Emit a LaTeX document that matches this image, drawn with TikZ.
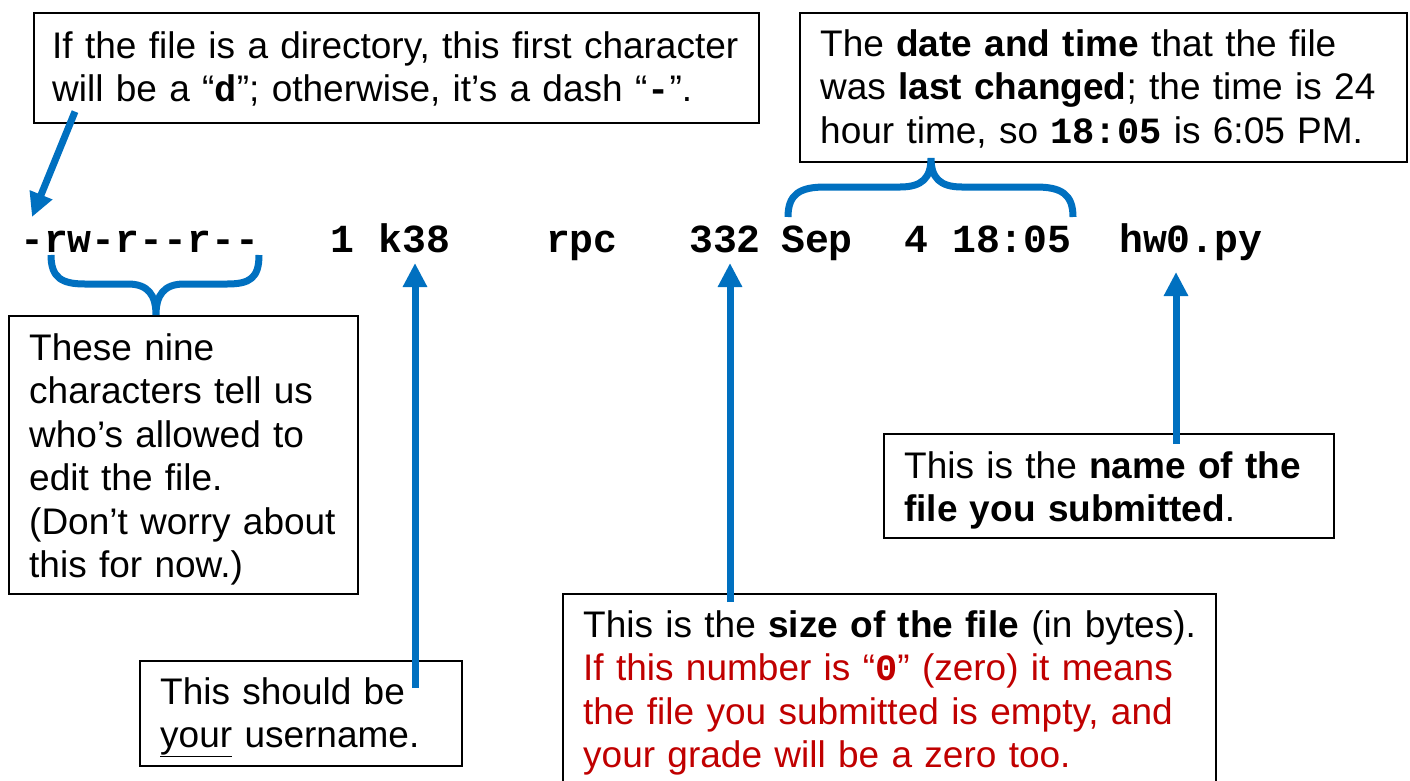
\documentclass[tikz,border=0pt]{standalone}
\usepackage{fontspec}
\setmainfont{Liberation Sans}
\setmonofont{Liberation Mono}
\usetikzlibrary{arrows.meta}
\definecolor{lblue}{RGB}{0,112,192}
\definecolor{dred}{RGB}{192,0,0}
\newcommand{\ttb}[1]{{\ttfamily\bfseries #1}}
\tikzset{
  box/.style={draw, line width=1.6pt, anchor=north west, inner sep=0pt},
  txt/.style={anchor=base west, inner sep=0pt, align=left, text width=700pt,
    font=\fontsize{37}{43.5}\selectfont},
  ls/.style={anchor=base west, inner sep=0pt, font=\fontsize{39.8}{44}\selectfont\ttfamily\bfseries},
  arr/.style={draw=lblue, line width=7pt, -{Triangle[length=24pt,width=23pt]}},
  brc/.style={draw=lblue, line width=7pt}
}
\begin{document}
\begin{tikzpicture}[x=1pt, y=-1pt]
  \path[use as bounding box] (0,0) rectangle (1410,780);
  \clip (0,0) rectangle (1410,780);
  % the listing line
  \node[ls] (perm) at (20,252) {-rw-r--r--};
  \node[ls] (links) at (330.7,252) {1};
  \node[ls] (k38) at (378.5,252) {k38};
  \node[ls] (grp) at (545.8,252) {rpc};
  \node[ls] (sz) at (689,252) {332};
  \node[ls] (mon) at (781,252) {Sep};
  \node[ls] (day) at (904,252) {4};
  \node[ls] (time) at (952,252) {18:05};
  \node[ls] (fname) at (1119,252) {hw0.py};
  % boxes
  \node[box, minimum width=725pt, minimum height=110pt] (dirbox) at (33,12) {};
  \node[txt] (dirtxt) at ([xshift=19pt,yshift=-46pt]dirbox.north west)
    {If the file is a directory, this first character\\
     will be a “\ttb{d}”; otherwise, it’s a dash “\ttb{-}”.};
  \node[box, minimum width=607pt, minimum height=149pt] (datebox) at (799,12) {};
  \node[txt] (datetxt) at ([xshift=21pt,yshift=-44pt]datebox.north west)
    {The \textbf{date and time} that the file\\
     was \textbf{last changed}; the time is 24\\
     hour time, so \ttb{18:05 }is 6:05 PM.};
  \node[box, minimum width=349pt, minimum height=278pt] (permbox) at (8,315) {};
  \node[txt] (permtxt) at ([xshift=21pt,yshift=-45pt]permbox.north west)
    {These nine\\ characters tell us\\ who’s allowed to\\ edit the file.\\
     (Don’t worry about\\ this for now.)};
  \node[box, minimum width=322pt, minimum height=105pt] (userbox) at (139,660) {};
  \node[txt] (usertxt) at ([xshift=21pt,yshift=-44pt]userbox.north west)
    {This should be\\ \underline{your} username.};
  \node[box, minimum width=450pt, minimum height=104pt] (namebox) at (883,433) {};
  \node[txt] (nametxt) at ([xshift=21pt,yshift=-45pt]namebox.north west)
    {This is the \textbf{name of the}\\ \textbf{file you submitted}.};
  \node[box, minimum width=653pt, minimum height=230pt] (sizebox) at (562,593) {};
  \node[txt] (sizetxt) at ([xshift=21pt,yshift=-44pt]sizebox.north west)
    {This is the \textbf{size of the file} (in bytes).\\
     \color{dred}If this number is “\ttb{0}” (zero) it means\\
     the file you submitted is empty, and\\
     your grade will be a zero too.};
  % braces
  \draw[brc] (51,255) .. controls (51,278) and (62,284) .. (85,284) -- (128,284)
    .. controls (148,284) and (156,295) .. (156,315)
    .. controls (156,295) and (164,284) .. (184,284) -- (227,284)
    .. controls (250,284) and (259,278) .. (259,255);
  \draw[brc] (788,217) .. controls (788,194) and (800,187) .. (825,187) -- (900,187)
    .. controls (922,187) and (931,178) .. (931,158)
    .. controls (931,178) and (940,187) .. (962,187) -- (1036,187)
    .. controls (1061,187) and (1073,194) .. (1073,217);
  % arrows
  \coordinate (dTip) at (32,217);
  \coordinate (kTip) at (415,263);
  \coordinate (sTip) at (730,263);
  \coordinate (nTip) at (1176,272);
  \draw[arr] ([xshift=42pt,yshift=12pt]dirbox.south west) -- (dTip);
  \draw[arr] ([yshift=-28pt]userbox.north -| kTip) -- (kTip);
  \draw[arr] ([yshift=-9pt]sizebox.north -| sTip) -- (sTip);
  \draw[arr] ([yshift=-11pt]namebox.north -| nTip) -- (nTip);
\end{tikzpicture}
\end{document}
